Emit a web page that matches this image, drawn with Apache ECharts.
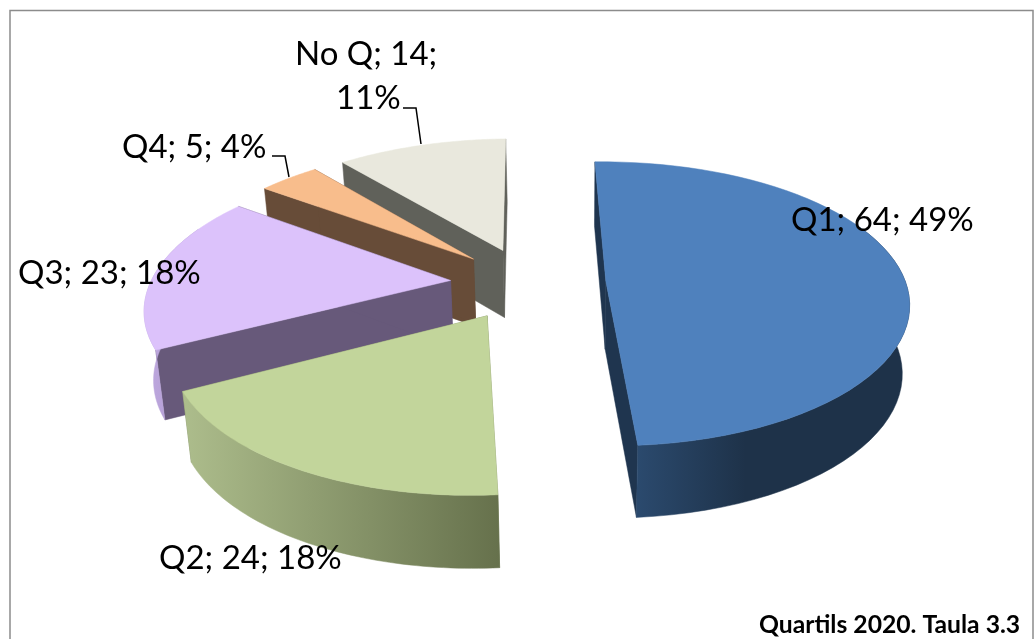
<!DOCTYPE html>
<html><head><meta charset="utf-8">
<style>html,body{margin:0;padding:0;background:#fff}#c{width:1034px;height:639px}</style>
<script src="https://cdn.jsdelivr.net/npm/echarts@6/dist/echarts.min.js"></script>
</head><body><div id="c"></div>
<script>
const categories = ['Q1', 'Q2', 'Q3', 'Q4', 'No Q'];
const values = [64, 24, 23, 5, 14];
const percents = [49, 18, 18, 4, 11];
const topColors = ['#4f81bd', '#c2d59b', '#dcc2fb', '#f8bd8c', '#e9e8dd'];
const innerColors = ['#1f354f', '#7b8760', '#67597a', '#674c38', '#60615a'];
const outerLeft = ['#2b4a6e', '#adbd8c', '#bfa9e0', '#7a5a42', '#bdbcb2'];
const outerRight = ['#1e3249', '#66714c', '#a994c8', '#674c38', '#60615a'];
const paintOrder = [4, 3, 2, 1, 0];

// view of the tilted, exploded pie
const view = {cx: 528, cy: 283, px: 575, R: 300, Rk: 139, p: 0.16, pX: 0.155, explode: 0.26, depth: 68, depthGrow: 0.06, shrink: 0.022, rotate: -1.5};

function project(u, v, z) {
  const s = 1 / (1 - view.p * v);
  const sx = (1 / (1 - view.pX * v)) * (1 - view.shrink * z);
  return [
    view.px + (view.cx - view.px + view.R * u) * sx,
    view.cy + view.Rk * v * s + view.depth * z * (1 + view.depthGrow * v)
  ];
}
const total = values.reduce((a, b) => a + b, 0);
const starts = [];
values.reduce((acc, v, i) => { starts[i] = acc; return acc + v; }, 0);

function renderSlice(params, api) {
  const i = api.value(0);
  const rot = view.rotate * Math.PI / 180;
  const a0 = rot + starts[i] / total * 2 * Math.PI;
  const a1 = rot + (starts[i] + values[i]) / total * 2 * Math.PI;
  const mid = (a0 + a1) / 2;
  const ou = view.explode * Math.sin(mid), ov = -view.explode * Math.cos(mid);
  const rim = (a, z) => project(ou + Math.sin(a), ov - Math.cos(a), z);
  const apex = z => project(ou, ov, z);
  const steps = 60, arc = [];
  for (let k = 0; k <= steps; k++) arc.push(a0 + (a1 - a0) * k / steps);

  const children = [];
  const poly = (points, fill) => children.push({
    type: 'polygon', shape: {points}, style: {fill, stroke: fill, lineWidth: 0.5}, silent: true
  });
  // radial walls
  poly([apex(0), rim(a0, 0), rim(a0, 1), apex(1)], innerColors[i]);
  poly([apex(0), rim(a1, 0), rim(a1, 1), apex(1)], innerColors[i]);
  // outer wall, front-facing part only
  const front = arc.filter(a => Math.cos(a) < 0.4);
  if (front.length > 1) {
    const pts = front.map(a => rim(a, 0)).concat(front.slice().reverse().map(a => rim(a, 1)));
    const stops = i === 0
      ? [{offset: 0, color: outerLeft[i]}, {offset: 0.4, color: outerRight[i]}, {offset: 1, color: outerRight[i]}]
      : [{offset: 0, color: outerLeft[i]}, {offset: 1, color: outerRight[i]}];
    poly(pts, new echarts.graphic.LinearGradient(0, 0, 1, 0, stops));
  }
  // top face
  poly([apex(0)].concat(arc.map(a => rim(a, 0))), topColors[i]);
  return {type: 'group', children};
}

const labelFont = {fontFamily: 'Lato', fontSize: 33, fill: '#000'};
const labelText = i => categories[i] + '; ' + values[i] + '; ' + percents[i] + '%';
const txt = (x, y, text, extra) => ({type: 'text', x, y: y - 26, z: 100, silent: true, style: {...labelFont, text, ...(extra || {})}});
const leader = pts => ({type: 'polyline', z: 100, silent: true, shape: {points: pts}, style: {stroke: '#000', lineWidth: 1.5, fill: null}});

const chart = echarts.init(document.getElementById('c'), null, {renderer: 'canvas'});
chart.setOption({
  animation: false,
  backgroundColor: '#fff',
  graphic: [
    {type: 'rect', z: 0, silent: true, shape: {x: 10, y: 10.5, width: 1023, height: 660}, style: {fill: '#fff', stroke: '#8c8c8c', lineWidth: 1.5}},
    txt(791, 230, labelText(0)),
    txt(159, 568, labelText(1)),
    txt(18, 283, labelText(2)),
    txt(122, 157, labelText(3)),
    txt(295, 64, categories[4] + '; ' + values[4] + ';'),
    txt(336, 108, percents[4] + '%'),
    leader([[272, 156], [285, 156], [289, 177]]),
    leader([[403, 108], [416, 108], [421, 144]]),
    txt(759, 639, 'Quartils 2020. Taula 3.3', {fontSize: 24.7, fontWeight: 'bold'})
  ],
  series: [{
    type: 'custom',
    coordinateSystem: 'none',
    renderItem: renderSlice,
    data: paintOrder.map(i => [i]),
    z: 10,
    silent: true
  }]
});
</script></body></html>
